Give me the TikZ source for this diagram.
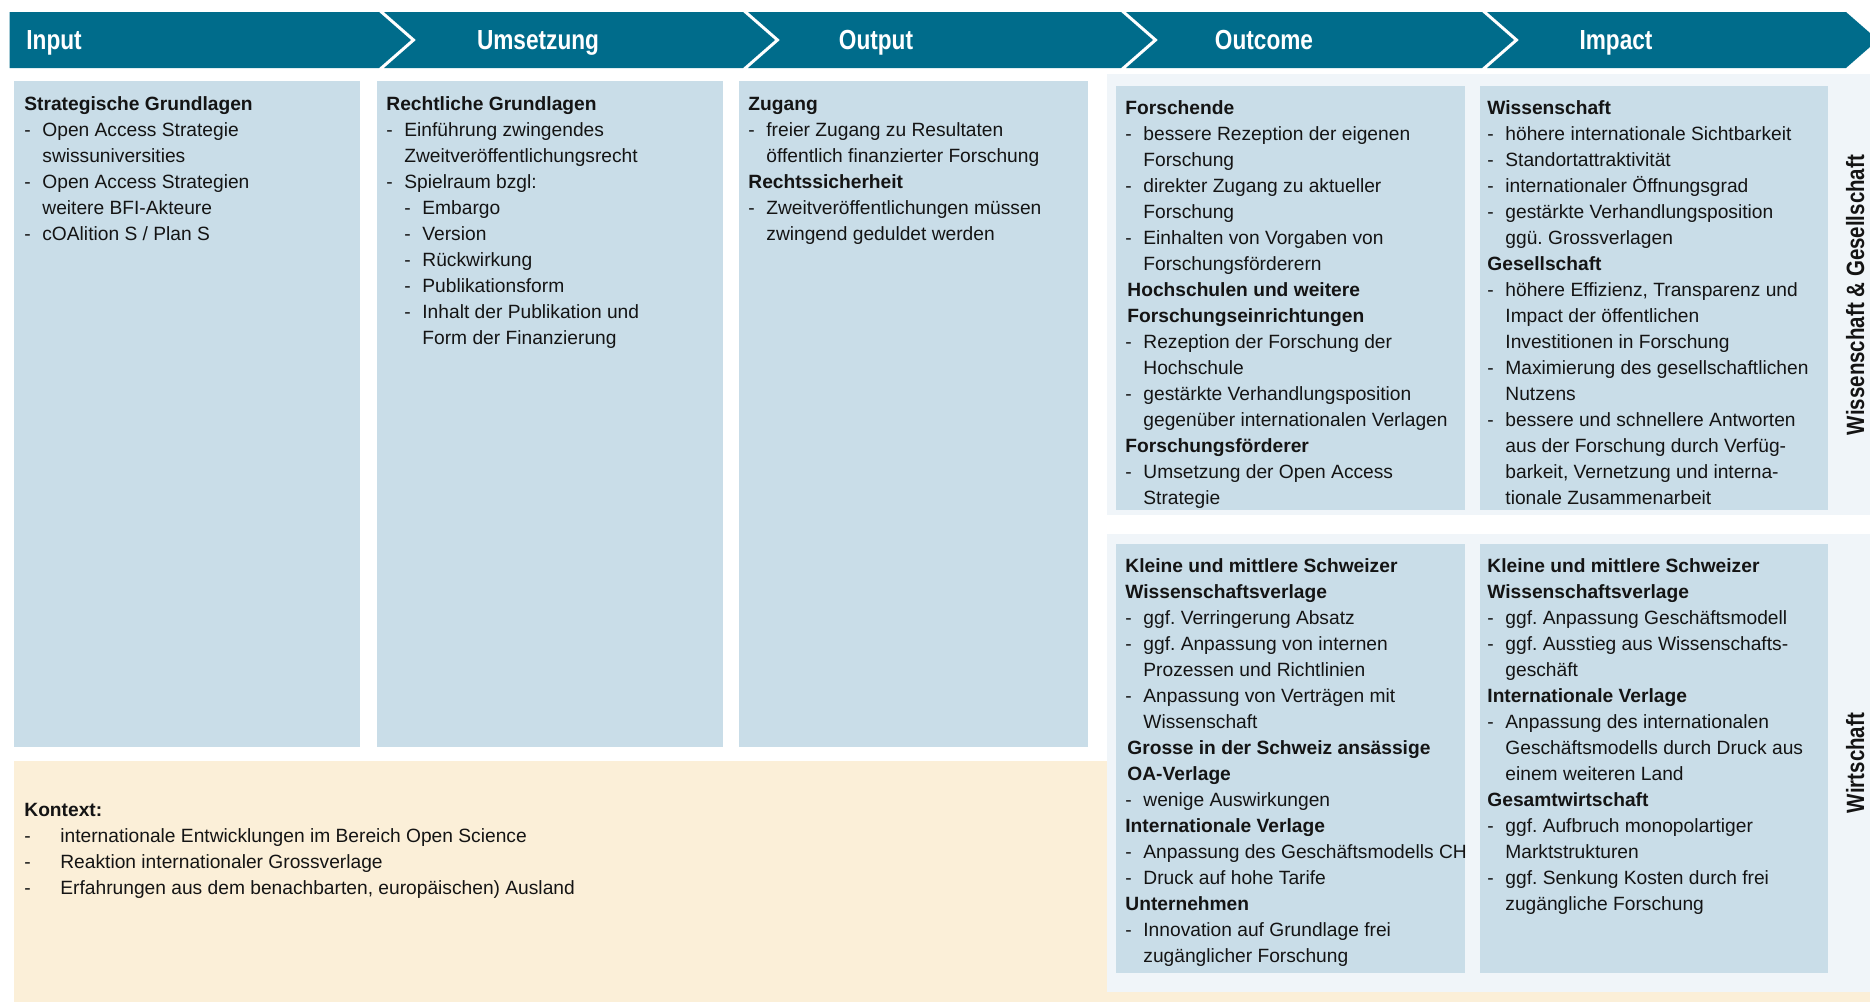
\documentclass[tikz,border=0pt]{standalone}
\usepackage{fontspec}
\setmainfont{Liberation Sans}
\newfontfamily\narrowfont[FakeStretch=0.82]{Liberation Sans}
\frenchspacing
\definecolor{hdrblue}{HTML}{006C8B}
\definecolor{boxblue}{HTML}{C9DDE8}
\definecolor{panelbg}{HTML}{F0F5F9}
\definecolor{ctxbeige}{HTML}{FBEFD8}
\definecolor{txtcol}{HTML}{141414}
\newcommand{\bxhead}[1]{\noindent\textbf{#1}\par}
\newcommand{\bxitem}[1]{\noindent\makebox[9pt][l]{-}#1\par}
\newcommand{\bxcont}[1]{\noindent\hspace*{9pt}#1\par}
\newcommand{\bxsub}[1]{\noindent\hspace*{9pt}\makebox[9pt][l]{-}#1\par}
\newcommand{\bxsubcont}[1]{\noindent\hspace*{18pt}#1\par}
\newcommand{\ctxitem}[1]{\noindent\makebox[18pt][l]{-}#1\par}
\newcommand{\boxtext}[1]{\begin{minipage}[t]{420pt}\raggedright\frenchspacing\fontsize{9.6pt}{13pt}\selectfont #1\end{minipage}}
\tikzset{
  bluebox/.style={fill=boxblue, draw=none},
  panel/.style={fill=panelbg, draw=none},
  hdrseg/.style={fill=hdrblue, draw=none},
  hdrlabel/.style={anchor=base, text=white, font=\narrowfont\bfseries\fontsize{13.8pt}{16pt}\selectfont, inner sep=0pt},
  bodytext/.style={anchor=base west, inner sep=0pt, text=txtcol},
  sidelabel/.style={rotate=90, anchor=base, inner sep=0pt, text=txtcol, font=\narrowfont\bfseries\fontsize{12.5pt}{14pt}\selectfont}
}
\begin{document}
\begin{tikzpicture}[x=0.5pt, y=-0.5pt]
\useasboundingbox (0,0) rectangle (1870,1002);
\fill[white] (0,0) rectangle (1870,1002);
% header chevrons
\fill[hdrseg] (9.5,12) -- (379,12) -- (411,40) -- (379,68) -- (9.5,68) -- cycle;
\fill[hdrseg] (384,12) -- (743,12) -- (775,40) -- (743,68) -- (384,68) -- (416,40) -- cycle;
\fill[hdrseg] (748,12) -- (1121,12) -- (1153,40) -- (1121,68) -- (748,68) -- (780,40) -- cycle;
\fill[hdrseg] (1126,12) -- (1482,12) -- (1514,40) -- (1482,68) -- (1126,68) -- (1158,40) -- cycle;
\fill[hdrseg] (1487,12) -- (1846,12) -- (1878,40) -- (1846,68) -- (1487,68) -- (1519,40) -- cycle;
\node[hdrlabel, anchor=base west] (hInput) at (26,49.5) {Input};
\node[hdrlabel] (hUms) at (538,49.5) {Umsetzung};
\node[hdrlabel] (hOut) at (876,49.5) {Output};
\node[hdrlabel] (hOutc) at (1264,49.5) {Outcome};
\node[hdrlabel] (hImp) at (1616,49.5) {Impact};
% context background
\fill[ctxbeige] (14,761) rectangle (1870,1002);
% left boxes
\fill[bluebox] (14,81) rectangle (360,747);
\fill[bluebox] (377,81) rectangle (723,747);
\fill[bluebox] (739,81) rectangle (1088,747);
% panels
\fill[panel] (1107,74) rectangle (1870,515);
\fill[panel] (1107,534) rectangle (1870,992);
\fill[bluebox] (1116,86) rectangle (1465,510);
\fill[bluebox] (1480,86) rectangle (1828,510);
\fill[bluebox] (1116,544) rectangle (1465,973);
\fill[bluebox] (1480,544) rectangle (1828,973);
% texts
\node[bodytext] (tInput) at (24,110.7) {\boxtext{%
\bxhead{Strategische Grundlagen}
\bxitem{Open Access Strategie}
\bxcont{swissuniversities}
\bxitem{Open Access Strategien}
\bxcont{weitere BFI-Akteure}
\bxitem{cOAlition S / Plan S}}};
\node[bodytext] (tUms) at (386,110.7) {\boxtext{%
\bxhead{Rechtliche Grundlagen}
\bxitem{Einführung zwingendes}
\bxcont{Zweitveröffentlichungsrecht}
\bxitem{Spielraum bzgl:}
\bxsub{Embargo}
\bxsub{Version}
\bxsub{Rückwirkung}
\bxsub{Publikationsform}
\bxsub{Inhalt der Publikation und}
\bxsubcont{Form der Finanzierung}}};
\node[bodytext] (tOut) at (748,110.7) {\boxtext{%
\bxhead{Zugang}
\bxitem{freier Zugang zu Resultaten}
\bxcont{öffentlich finanzierter Forschung}
\bxhead{Rechtssicherheit}
\bxitem{Zweitveröffentlichungen müssen}
\bxcont{zwingend geduldet werden}}};
\node[bodytext] (tOutcA) at (1125,114.2) {\boxtext{%
\bxhead{Forschende}
\bxitem{bessere Rezeption der eigenen}
\bxcont{Forschung}
\bxitem{direkter Zugang zu aktueller}
\bxcont{Forschung}
\bxitem{Einhalten von Vorgaben von}
\bxcont{Forschungsförderern}
\bxhead{\hspace*{1pt}Hochschulen und weitere}
\bxhead{\hspace*{1pt}Forschungseinrichtungen}
\bxitem{Rezeption der Forschung der}
\bxcont{Hochschule}
\bxitem{gestärkte Verhandlungsposition}
\bxcont{gegenüber internationalen Verlagen}
\bxhead{Forschungsförderer}
\bxitem{Umsetzung der Open Access}
\bxcont{Strategie}}};
\node[bodytext] (tImpA) at (1487,114.2) {\boxtext{%
\bxhead{Wissenschaft}
\bxitem{höhere internationale Sichtbarkeit}
\bxitem{Standortattraktivität}
\bxitem{internationaler Öffnungsgrad}
\bxitem{gestärkte Verhandlungsposition}
\bxcont{ggü. Grossverlagen}
\bxhead{Gesellschaft}
\bxitem{höhere Effizienz, Transparenz und}
\bxcont{Impact der öffentlichen}
\bxcont{Investitionen in Forschung}
\bxitem{Maximierung des gesellschaftlichen}
\bxcont{Nutzens}
\bxitem{bessere und schnellere Antworten}
\bxcont{aus der Forschung durch Verfüg-}
\bxcont{barkeit, Vernetzung und interna-}
\bxcont{tionale Zusammenarbeit}}};
\node[bodytext] (tOutcB) at (1125,572.2) {\boxtext{%
\bxhead{Kleine und mittlere Schweizer}
\bxhead{Wissenschaftsverlage}
\bxitem{ggf. Verringerung Absatz}
\bxitem{ggf. Anpassung von internen}
\bxcont{Prozessen und Richtlinien}
\bxitem{Anpassung von Verträgen mit}
\bxcont{Wissenschaft}
\bxhead{\hspace*{1pt}Grosse in der Schweiz ansässige}
\bxhead{\hspace*{1pt}OA-Verlage}
\bxitem{wenige Auswirkungen}
\bxhead{Internationale Verlage}
\bxitem{Anpassung des Geschäftsmodells CH}
\bxitem{Druck auf hohe Tarife}
\bxhead{Unternehmen}
\bxitem{Innovation auf Grundlage frei}
\bxcont{zugänglicher Forschung}}};
\node[bodytext] (tImpB) at (1487,572.2) {\boxtext{%
\bxhead{Kleine und mittlere Schweizer}
\bxhead{Wissenschaftsverlage}
\bxitem{ggf. Anpassung Geschäftsmodell}
\bxitem{ggf. Ausstieg aus Wissenschafts-}
\bxcont{geschäft}
\bxhead{Internationale Verlage}
\bxitem{Anpassung des internationalen}
\bxcont{Geschäftsmodells durch Druck aus}
\bxcont{einem weiteren Land}
\bxhead{Gesamtwirtschaft}
\bxitem{ggf. Aufbruch monopolartiger}
\bxcont{Marktstrukturen}
\bxitem{ggf. Senkung Kosten durch frei}
\bxcont{zugängliche Forschung}}};
\node[bodytext] (tCtx) at (24,816.7) {\boxtext{%
\bxhead{Kontext:}
\ctxitem{internationale Entwicklungen im Bereich Open Science}
\ctxitem{Reaktion internationaler Grossverlage}
\ctxitem{Erfahrungen aus dem benachbarten, europäischen) Ausland}}};
% side labels
\node[sidelabel] (sWG) at (1864,295) {Wissenschaft \& Gesellschaft};
\node[sidelabel] (sW) at (1864,763) {Wirtschaft};
\end{tikzpicture}
\end{document}
